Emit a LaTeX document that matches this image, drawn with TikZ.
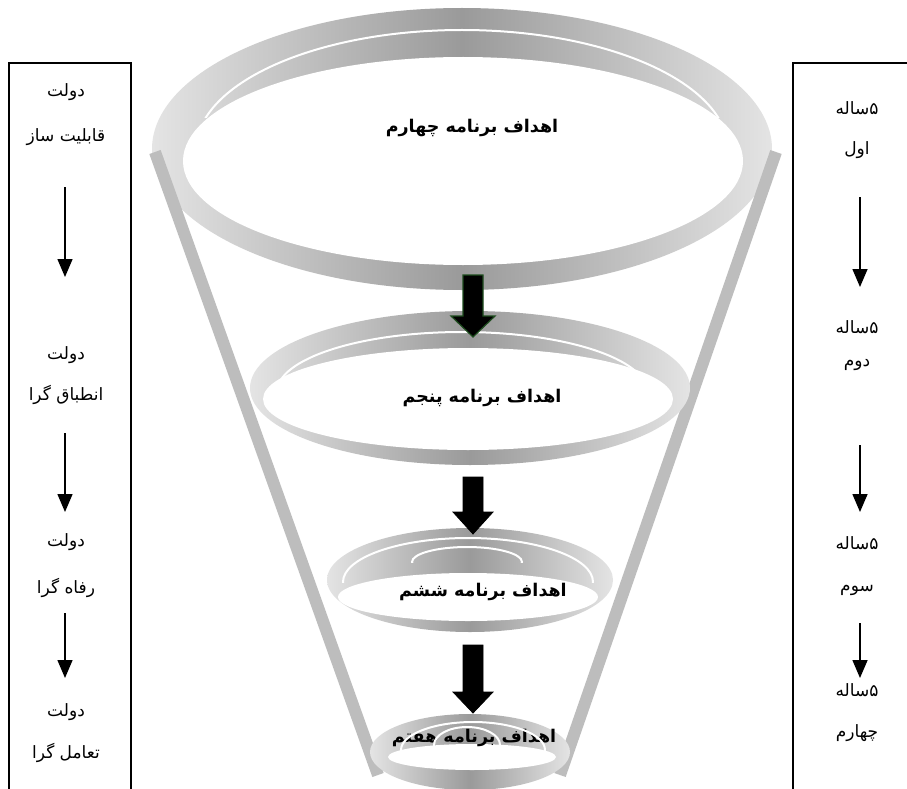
\documentclass[tikz,border=0pt]{standalone}
\usepackage{fontspec}
\usetikzlibrary{arrows.meta}
\newfontfamily\arfont[Script=Arabic]{DejaVu Sans}
\TeXXeTstate=1
\definecolor{ringmid}{HTML}{9A9A9A}
\definecolor{ringedge}{HTML}{E4E4E4}
\definecolor{barcol}{HTML}{BDBDBD}
\definecolor{arrowgreen}{HTML}{1E4D1E}
\tikzset{
  sidetext/.style={font=\arfont\fontsize{17}{19}\selectfont, inner sep=0pt},
  titletext/.style={font=\arfont\bfseries\fontsize{17.5}{20}\selectfont, inner sep=0pt},
  sidearrow/.style={line width=1.5pt, -{Triangle[width=15pt,length=18pt]}},
  boxline/.style={line width=2pt},
  funnelbar/.style={barcol, line width=12pt},
  ringband/.style={left color=ringedge, right color=ringedge, middle color=ringmid},
  rimline/.style={white, line width=2pt},
  blockarrow/.style={fill=black, draw=black, line width=0.8pt},
}
\begin{document}
\begin{tikzpicture}[x=1pt,y=-1pt]
\useasboundingbox (0,0) rectangle (907,789);
\fill[white] (0,0) rectangle (907,789);

% ---- ring 1
\path[ringband] (462,149) ellipse [x radius=310, y radius=141];
\fill[white] (463,161) ellipse [x radius=280, y radius=104];
\begin{scope}
  \clip (0,0) rectangle (907,118);
  \draw[rimline] (462,150) ellipse [x radius=266, y radius=120];
\end{scope}

% ---- funnel bars
\draw[funnelbar] (155,152) -- (378,775);
\draw[funnelbar] (776,152) -- (560,775);

% ---- ring 2
\path[ringband] (470,388) ellipse [x radius=220, y radius=77];
\fill[white] (468,399) ellipse [x radius=205, y radius=51];
\begin{scope}
  \clip (0,300) rectangle (907,390);
  \draw[rimline] (462,392) ellipse [x radius=185, y radius=60];
\end{scope}

% ---- ring 3
\path[ringband] (470,580) ellipse [x radius=143, y radius=52];
\fill[white] (468,597) ellipse [x radius=130, y radius=24];
\begin{scope}
  \clip (0,520) rectangle (907,582);
  \draw[rimline] (468,582) ellipse [x radius=125, y radius=44];
\end{scope}
\begin{scope}
  \clip (0,520) rectangle (907,562);
  \draw[rimline] (467,562) ellipse [x radius=55, y radius=15];
\end{scope}

% ---- ring 4
\path[ringband] (470,752) ellipse [x radius=100, y radius=38];
\fill[white] (472,757) ellipse [x radius=84, y radius=13];

% ---- titles
\node[titletext] (t1) at (472,128) {\beginR اهداف برنامه چهارم\endR};
\node[titletext] (t2) at (482,398) {\beginR اهداف برنامه پنجم\endR};
\node[titletext] (t3) at (483,592) {\beginR اهداف برنامه ششم\endR};
\node[titletext] (t4) at (474,738) {\beginR اهداف برنامه هفتم\endR};

\begin{scope}
  \clip (0,700) rectangle (907,750);
  \draw[rimline] (473,750) ellipse [x radius=72, y radius=28];
\end{scope}
\begin{scope}
  \clip (0,700) rectangle (907,745);
  \draw[rimline] (467,745) ellipse [x radius=33, y radius=18];
\end{scope}

% ---- block arrows
\filldraw[fill=black, draw=arrowgreen, line width=1.2pt]
  (463,275) -- (483,275) -- (483,316) -- (495,316) -- (473,337) -- (451,316) -- (463,316) -- cycle;
\filldraw[blockarrow]
  (463,477) -- (483,477) -- (483,512) -- (493,512) -- (473,534) -- (453,512) -- (463,512) -- cycle;
\filldraw[blockarrow]
  (463,645) -- (483,645) -- (483,692) -- (493,692) -- (473,713) -- (453,692) -- (463,692) -- cycle;

% ---- left box
\draw[boxline] (9,789) -- (9,63) -- (131,63) -- (131,789);
\node[sidetext] (la1) at (66,92) {\beginR دولت\endR};
\node[sidetext] (la2) at (66,137) {\beginR قابلیت ساز\endR};
\node[sidetext] (lb1) at (66,355) {\beginR دولت\endR};
\node[sidetext] (lb2) at (66,395) {\beginR انطباق گرا\endR};
\node[sidetext] (lc1) at (66,542) {\beginR دولت\endR};
\node[sidetext] (lc2) at (66,588) {\beginR رفاه گرا\endR};
\node[sidetext] (ld1) at (66,712) {\beginR دولت\endR};
\node[sidetext] (ld2) at (66,753) {\beginR تعامل گرا\endR};
\coordinate (lar1s) at (65,187);
\coordinate (lar1e) at (65,277);
\coordinate (lar2s) at (65,433);
\coordinate (lar2e) at (65,512);
\coordinate (lar3s) at (65,613);
\coordinate (lar3e) at (65,678);
\draw[sidearrow] (lar1s) -- (lar1e);
\draw[sidearrow] (lar2s) -- (lar2e);
\draw[sidearrow] (lar3s) -- (lar3e);

% ---- right box
\draw[boxline] (907,63) -- (793,63) -- (793,789);
\node[sidetext] (ra1) at (857,108) {\beginR ۵ساله\endR};
\node[sidetext] (ra2) at (857,150) {\beginR اول\endR};
\node[sidetext] (rb1) at (857,327) {\beginR ۵ساله\endR};
\node[sidetext] (rb2) at (857,365) {\beginR دوم\endR};
\node[sidetext] (rc1) at (857,543) {\beginR ۵ساله\endR};
\node[sidetext] (rc2) at (857,590) {\beginR سوم\endR};
\node[sidetext] (rd1) at (857,690) {\beginR ۵ساله\endR};
\node[sidetext] (rd2) at (857,733) {\beginR چهارم\endR};
\coordinate (rar1s) at (860,197);
\coordinate (rar1e) at (860,287);
\coordinate (rar2s) at (860,445);
\coordinate (rar2e) at (860,512);
\coordinate (rar3s) at (860,623);
\coordinate (rar3e) at (860,678);
\draw[sidearrow] (rar1s) -- (rar1e);
\draw[sidearrow] (rar2s) -- (rar2e);
\draw[sidearrow] (rar3s) -- (rar3e);
\end{tikzpicture}
\end{document}
